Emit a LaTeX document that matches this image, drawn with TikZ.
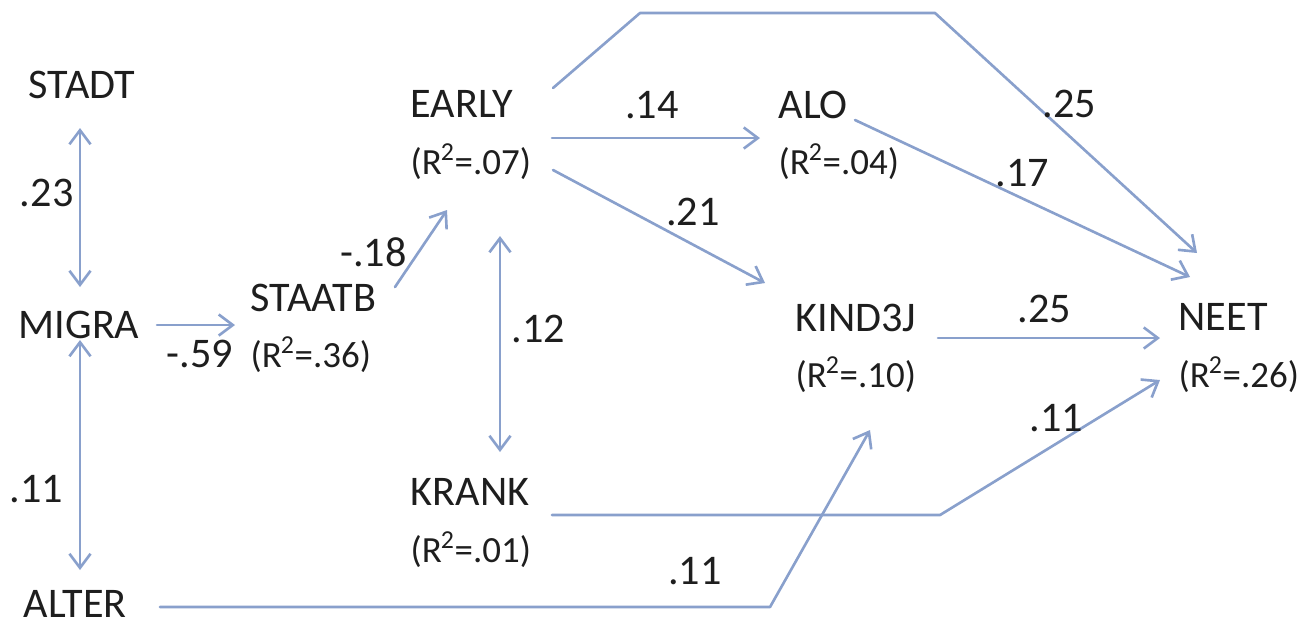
\documentclass[tikz,border=0pt]{standalone}
\usepackage{fontspec}
\setmainfont{Carlito}
\usetikzlibrary{calc,arrows.meta}
\definecolor{pfad}{RGB}{137,160,204}
\definecolor{schrift}{RGB}{30,30,30}
\newcommand{\rzwei}[1]{{\fontsize{10.5}{16}\selectfont(R\kern-.3pt\textsuperscript{2}\kern-.3pt=#1)}}
\tikzset{var/.style={anchor=north west, inner sep=0pt, align=left, text=schrift},
  lab/.style={inner sep=1pt, text=schrift},
  pfeil/.style={draw=pfad, line width=0.75pt}}

\begin{document}
\begin{tikzpicture}[x=0.01cm, y=-0.01cm, >={Straight Barb[length=4pt,width=6pt]},
    font=\fontsize{12}{16}\selectfont, line join=round, line cap=round]
        \useasboundingbox (0,0) rectangle (1301,626);
        \node[var] (stadt) at (28,70) {STADT};
        \node[var] (migra) at (18,310) {MIGRA};
        \node[var] (alter) at (23,590) {ALTER};
        \node[var] (staatb) at (250,283) {STAATB\\\rzwei{.36}};
        \node[var] (early) at (410,90) {EARLY\\\rzwei{.07}};
        \node[var] (krank) at (410,478) {KRANK\\\rzwei{.01}};
        \node[var] (alo) at (778,90) {ALO\\\rzwei{.04}};
        \node[var] (kind) at (795,303) {KIND3J\\\rzwei{.10}};
        \node[var] (neet) at (1178,303) {NEET\\\rzwei{.26}};
        \draw[pfeil,<->] ($(stadt.north west)+(52,58)$) -- ($(migra.north west)+(62,-23)$)
            node[lab,pos=.41,left=0.5pt] {.23};
        \draw[pfeil,<->] ($(migra.north west)+(62,30)$) -- ($(alter.north west)+(57,-20)$)
            node[lab,pos=.65,left=3.5pt] {.11};
        \draw[pfeil,->] ($(migra.north west)+(139,15)$) -- ($(staatb.north west)+(-15,42)$)
            node[lab,pos=.55,below=3pt] {-.59};
        \draw[pfeil,->] ($(staatb.north west)+(145,4)$) -- ($(early.north west)+(37,120)$)
            node[lab,pos=.45,left=2pt] {-.18};
        \draw[pfeil,<->] ($(early.north west)+(90,146)$) -- ($(krank.north west)+(90,-26)$)
            node[lab,pos=.43,right=2pt] {.12};
        \draw[pfeil,->] ($(early.north west)+(142,48)$) -- ($(alo.north west)+(-18,48)$)
            node[lab,pos=.48,above=4pt] {.14};
        \draw[pfeil,->] ($(early.north west)+(143,80)$) -- ($(kind.north west)+(-30,-20)$)
            node[lab,pos=.66,above=4pt] {.21};
        \draw[pfeil,->] ($(early.north west)+(143,-2)$) -- ++(87,-75) -- ++(295,0)
            -- ($(neet.north west)+(19,-50)$) node[lab,pos=.38,right=1pt] {.25};
        \draw[pfeil,->] ($(alo.north west)+(77,30)$) -- ($(neet.north west)+(12,-26)$)
            node[lab,pos=.5,above=2pt] {.17};
        \draw[pfeil,->] ($(kind.north west)+(143,35)$) -- ($(neet.north west)+(-18,35)$)
            node[lab,pos=.48,above=3pt] {.25};
        \draw[pfeil,->] ($(krank.north west)+(142,37)$) -- ++(388,0)
            -- ($(neet.north west)+(-18,77)$) node[lab,pos=.53,above=2pt] {.11};
        \draw[pfeil,->] ($(alter.north west)+(137,17)$) -- ++(610,0) node[lab,pos=.877,above=5pt] {.11}
            -- ($(kind.north west)+(75,127)$);
\end{tikzpicture}
\end{document}
